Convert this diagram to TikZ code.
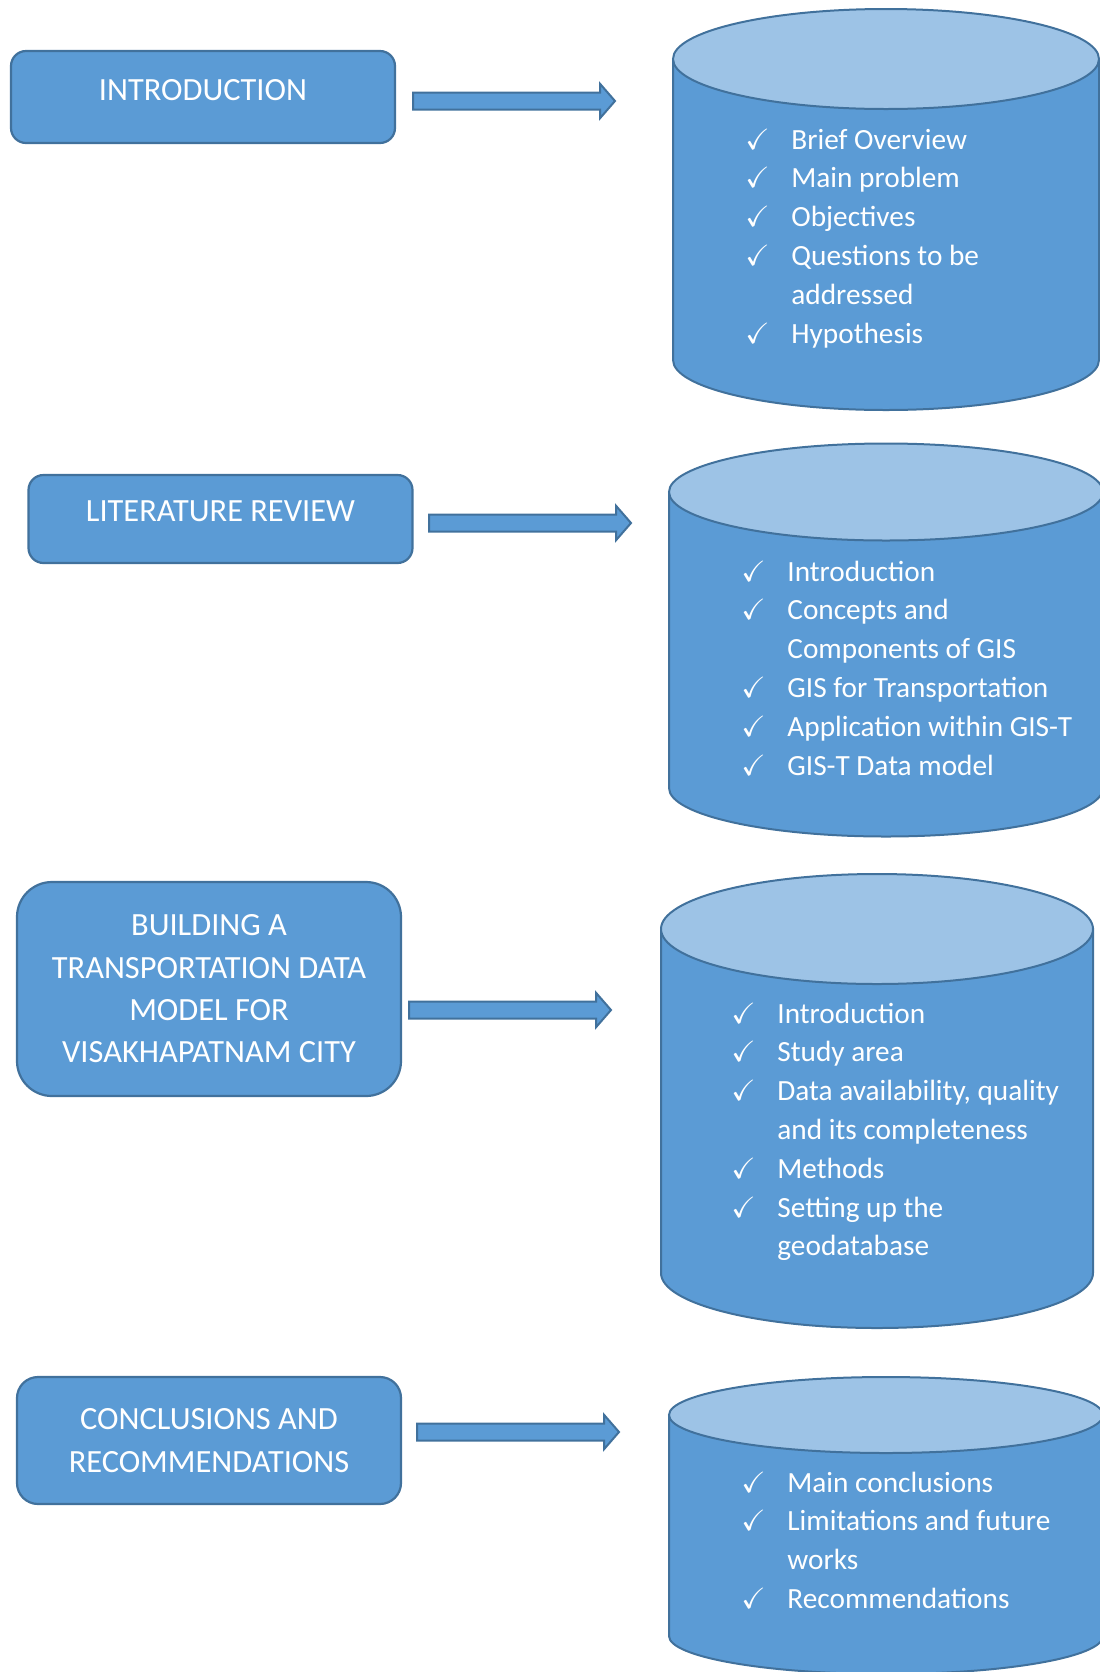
\documentclass[tikz,border=0pt]{standalone}
\usepackage{fontspec}
\setmainfont{Carlito}
\usepackage{amssymb}
\usetikzlibrary{shapes.arrows}
\definecolor{boxblue}{HTML}{5B9BD5}
\definecolor{edgeblue}{HTML}{41719C}
\definecolor{lidblue}{HTML}{9DC3E6}

\begin{document}
\begin{tikzpicture}[x=0.5pt,y=-0.5pt,
  chapter/.style={draw=edgeblue, line width=1.1pt, fill=boxblue, text=white, minimum width=192pt, align=center, font=\fontsize{16.2pt}{21.15pt}\selectfont},
  flowarrow/.style={single arrow, draw=edgeblue, line width=1pt, fill=boxblue, inner sep=3.75pt, single arrow head extend=4.25pt, single arrow tip angle=98, minimum height=101pt, anchor=tail},
  cylbody/.style={draw=edgeblue, line width=1pt, fill=boxblue},
  cyltop/.style={draw=edgeblue, line width=1pt, fill=lidblue},
  items/.style={anchor=base west, inner sep=0pt, text=white, font=\fontsize{14.65pt}{19.4pt}\selectfont}]
\useasboundingbox (0,0) rectangle (1099,1672);

% cylinders
\path[cylbody] (673,59) -- (673,360) arc[start angle=180, end angle=360, x radius=106.5pt, y radius=25pt] -- (1099,59) -- cycle;
\path[cyltop] (886,59) ellipse[x radius=106.5pt, y radius=25pt];
\path[cylbody] (669,492) -- (669,788) arc[start angle=180, end angle=360, x radius=108.5pt, y radius=24.25pt] -- (1103,492) -- cycle;
\path[cyltop] (886,492) ellipse[x radius=108.5pt, y radius=24.25pt];
\path[cylbody] (661,929) -- (661,1273) arc[start angle=180, end angle=360, x radius=108pt, y radius=27.5pt] -- (1093,929) -- cycle;
\path[cyltop] (877,929) ellipse[x radius=108pt, y radius=27.5pt];
\path[cylbody] (669,1415) -- (669,1636) arc[start angle=180, end angle=360, x radius=108.5pt, y radius=19pt] -- (1103,1415) -- cycle;
\path[cyltop] (886,1415) ellipse[x radius=108.5pt, y radius=19pt];

% chapters
\node[chapter, minimum height=46pt, rounded corners=7.5pt, text depth=7.5pt] (intro) at (203,97) {INTRODUCTION};
\node[chapter, minimum height=44pt, rounded corners=7.5pt, text depth=7.5pt] (litrev) at (220.5,519) {LITERATURE REVIEW};
\node[chapter, minimum height=107pt, rounded corners=17.5pt] (model) at (209,989) {BUILDING A\\TRANSPORTATION DATA\\MODEL FOR\\VISAKHAPATNAM CITY};
\node[chapter, minimum height=63.5pt, rounded corners=10.5pt] (concl) at (209,1440.5) {CONCLUSIONS AND\\RECOMMENDATIONS};

% arrows
\node[flowarrow] (a1) at (412,101) {};
\node[flowarrow] (a2) at (428,523) {};
\node[flowarrow] (a3) at (408,1010) {};
\node[flowarrow] (a4) at (416,1432) {};

% contents
\node[items] (introlist) at (745,149) {\begin{tabular}[t]{@{}p{23pt}@{}l@{}}
$\checkmark$ & Brief Overview\\
$\checkmark$ & Main problem\\
$\checkmark$ & Objectives\\
$\checkmark$ & Questions to be\\
 & addressed\\
$\checkmark$ & Hypothesis
\end{tabular}};
\node[items] (litlist) at (741,581) {\begin{tabular}[t]{@{}p{23pt}@{}l@{}}
$\checkmark$ & Introduction\\
$\checkmark$ & Concepts and\\
 & Components of GIS\\
$\checkmark$ & GIS for Transportation\\
$\checkmark$ & Application within GIS-T\\
$\checkmark$ & GIS-T Data model
\end{tabular}};
\node[items] (modellist) at (731,1023) {\begin{tabular}[t]{@{}p{23pt}@{}l@{}}
$\checkmark$ & Introduction\\
$\checkmark$ & Study area\\
$\checkmark$ & Data availability, quality\\
 & and its completeness\\
$\checkmark$ & Methods\\
$\checkmark$ & Setting up the\\
 & geodatabase
\end{tabular}};
\node[items] (concllist) at (741,1492) {\begin{tabular}[t]{@{}p{23pt}@{}l@{}}
$\checkmark$ & Main conclusions\\
$\checkmark$ & Limitations and future\\
 & works\\
$\checkmark$ & Recommendations
\end{tabular}};
\end{tikzpicture}
\end{document}
